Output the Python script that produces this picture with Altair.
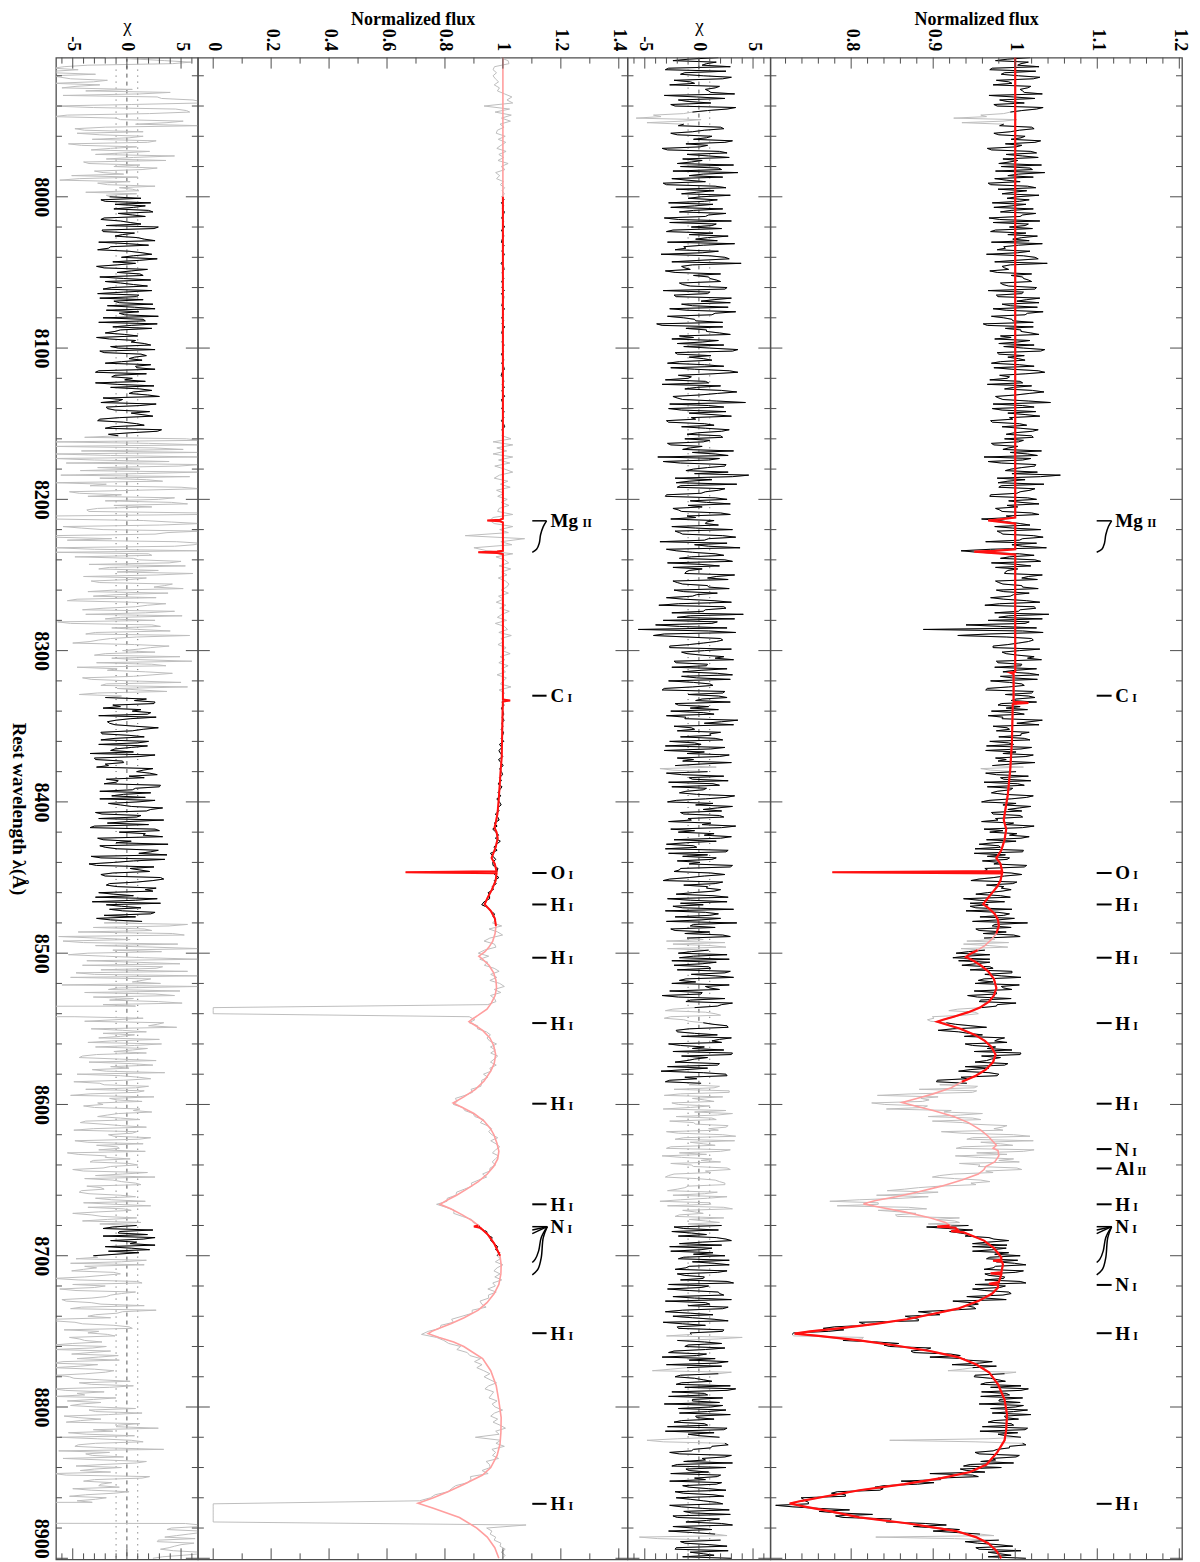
import altair as alt
import pandas as pd

SERIF = "Liberation Serif"
FRAME = "#4d4d4d"
GREY = "#bebebe"
PINK = "#ff9e9e"
RED = "#ff1010"
H = 1503
W_CHI1, W_FLUX2, W_CHI2, W_FLUX1 = 142, 430, 143, 412

# ---------------------------------------------------------------- data
GRID_START = 7908   # first spectrum pixel (Angstrom)
# *_A arrays: pixels at 7908, 7910, ... 8900 ; *_B arrays: pixels at 7909, 7911, ... 8899

# right pair: observed normalized flux
OBS1_A = [
    1.018, 0.976, 1.007, 1.029, 0.969, 0.987, 1.004, 1.022, 0.992, 0.973, 1.015, 1.009, 1.033, 0.998, 0.981, 1.011, 0.978, 1.026, 0.994, 0.958, 0.925, 0.985, 0.986, 1.020, 1.005,
    0.974, 1.012, 0.995, 1.024, 1.008, 0.966, 1.019, 0.989, 1.028, 1.003, 0.980, 0.983, 1.021, 1.036, 0.991, 0.975, 1.006, 0.970, 1.025, 1.014, 0.984, 1.002, 1.017, 0.972, 0.996,
    1.022, 0.982, 1.009, 0.968, 1.030, 1.016, 0.993, 0.976, 1.013, 1.027, 0.997, 0.971, 1.004, 0.988, 1.018, 0.965, 1.024, 1.001, 1.039, 0.984, 0.992, 0.978, 0.995, 1.010, 1.020,
    0.985, 1.026, 0.967, 1.008, 0.979, 1.014, 1.029, 0.994, 0.973, 1.034, 1.012, 0.986, 0.997, 0.961, 1.022, 1.007, 1.019, 0.982, 0.975, 1.003, 1.023, 1.010, 1.031, 0.980, 0.991,
    1.012, 0.971, 1.023, 0.996, 1.036, 0.981, 0.990, 1.006, 0.966, 0.998, 1.021, 1.017, 0.976, 0.985, 1.043, 1.009, 0.972, 1.025, 1.013, 0.993, 0.970, 1.005, 0.984, 1.028, 0.999,
    1.020, 0.987, 1.004, 0.974, 0.992, 1.032, 1.015, 0.962, 1.009, 0.983, 1.024, 0.995, 1.027, 1.055, 0.978, 0.991, 1.035, 0.980, 1.018, 1.002, 0.969, 1.026, 1.007, 0.990, 0.976,
    0.984, 1.029, 0.997, 0.981, 1.006, 0.975, 1.031, 0.982, 1.022, 1.009, 0.964, 0.996, 1.038, 0.934, 1.005, 0.993, 1.024, 0.971, 1.019, 1.003, 0.988, 1.033, 1.008, 0.976, 0.985,
    1.009, 0.977, 1.017, 0.994, 0.986, 1.030, 0.963, 1.025, 1.004, 1.041, 0.980, 0.967, 1.012, 0.982, 0.888, 1.034, 0.930, 1.020, 1.016, 0.991, 0.973, 1.005, 0.989, 1.023, 1.032,
    0.979, 1.007, 1.026, 0.985, 1.029, 0.996, 0.970, 1.008, 0.992, 0.964, 1.020, 1.016, 1.001, 1.026, 0.979, 0.989, 0.971, 1.011, 0.985, 1.033, 1.002, 0.973, 0.993, 1.017, 1.007,
    1.011, 0.969, 0.998, 1.020, 0.964, 0.985, 1.013, 0.989, 1.024, 0.972, 0.958, 1.001, 0.977, 0.982, 1.019, 1.003, 0.966, 0.994, 0.971, 1.022, 0.995, 0.959, 0.985, 1.005, 1.008,
    0.973, 1.009, 0.979, 0.998, 1.023, 0.962, 0.969, 0.993, 1.007, 1.001, 0.956, 0.982, 1.010, 0.950, 0.966, 0.990, 0.982, 1.014, 0.963, 0.961, 1.008, 0.974, 0.946, 0.997, 0.986,
    0.995, 0.966, 0.982, 0.937, 0.987, 0.967, 0.952, 0.940, 0.993, 0.957, 0.979, 1.015, 0.972, 0.952, 0.989, 0.998, 0.962, 0.941, 0.937, 0.991, 0.963, 0.928, 0.941, 0.969, 0.969,
    0.935, 0.973, 0.996, 0.963, 1.007, 0.955, 0.951, 0.983, 0.996, 0.977, 0.942, 0.995, 0.956, 0.978, 0.959, 0.919, 0.955, 0.899, 0.893, 0.916, 0.946, 0.924, 0.931, 0.960, 0.987,
    0.975, 0.939, 0.976, 0.996, 1.007, 0.959, 0.971, 0.951, 0.987, 0.968, 0.931, 0.980, 0.934, 0.905, 0.941, 0.954, 0.883, 0.948, 0.832, 0.885, 0.887, 0.841, 0.888, 0.922, 0.960,
    0.894, 0.958, 0.936, 0.990, 0.974, 0.910, 0.998, 0.948, 1.022, 0.982, 0.936, 1.023, 0.953, 0.927, 0.998, 1.005, 0.957, 1.002, 0.964, 0.925, 0.899, 0.958, 0.946, 0.908, 0.865,
    0.906, 0.831, 0.862, 0.774, 0.833, 0.870, 0.833, 0.879, 0.856, 0.902, 0.932, 0.943, 0.918, 0.920, 0.945, 0.968, 0.992, 0.948, 0.948, 0.973, 0.992, 1.006, 0.965, 0.977, 1.013,
    0.973, 1.010, 0.963, 0.987, 0.963, 1.013, 0.988, 0.948, 0.992, 0.985, 0.964, 0.924, 0.955, 0.949, 0.920, 0.897, 0.866, 0.882, 0.810, 0.821, 0.766, 0.772, 0.728, 0.815, 0.790,
    0.858, 0.847, 0.891, 0.876, 0.933, 0.937, 0.972, 0.923, 0.948, 0.918, 0.987, 0.950, 0.979, 0.964, 1.007, 1.016, 0.959, 0.993, 1.009, 0.980, 0.956, 1.000, 1.015, 0.972, 0.987,
    1.004, 0.967, 0.998, 1.015, 0.957, 0.979, 1.007, 0.847, 1.009, 0.993, 0.978, 0.951, 1.005, 0.971, 0.958, 0.945, 0.983, 0.941, 0.896, 0.955, 0.909, 0.901, 0.840, 0.839, 0.783,
    0.793, 0.739, 0.744, 0.748, 0.729, 0.798, 0.783, 0.781, 0.849, 0.843, 0.916, 0.905, 0.900, 0.957, 0.830, 0.980, 0.954, 0.997, 0.956, 0.967, 0.995, 1.013,
]
OBS1_B = [
    0.991, 1.016, 1.003, 0.972, 1.025, 0.983, 1.030, 0.977, 0.996, 1.019, 1.006, 1.011, 0.968, 1.024, 0.990, 0.974, 1.034, 1.008, 0.986, 0.965, 1.002, 0.935, 0.981, 1.023, 0.994,
    0.980, 1.007, 1.031, 0.988, 1.001, 0.971, 1.026, 1.009, 0.985, 0.993, 1.032, 1.018, 0.976, 1.004, 1.022, 0.989, 0.967, 1.015, 0.979, 0.998, 1.029, 0.990, 1.005, 1.013, 0.974,
    0.995, 1.025, 1.006, 0.981, 0.973, 1.012, 1.021, 0.970, 0.991, 1.008, 1.017, 1.033, 0.986, 0.978, 1.003, 1.010, 1.028, 0.975, 0.994, 0.987, 0.969, 1.020, 1.009, 1.016, 0.982,
    0.992, 1.024, 1.010, 0.977, 1.030, 1.002, 0.984, 1.027, 0.989, 1.015, 0.971, 0.996, 1.022, 0.966, 0.988, 1.007, 1.029, 0.995, 1.018, 0.980, 0.986, 1.036, 0.978, 1.011, 1.004,
    0.982, 1.005, 0.974, 1.028, 1.013, 0.993, 0.969, 1.009, 1.020, 0.987, 1.035, 1.001, 0.980, 1.016, 0.973, 1.023, 0.984, 0.991, 1.030, 0.997, 0.972, 1.014, 1.006, 1.021, 0.989,
    1.022, 1.010, 0.971, 1.003, 0.985, 0.994, 1.027, 1.019, 0.967, 1.025, 1.008, 0.988, 0.996, 1.031, 1.012, 0.979, 0.983, 1.024, 1.006, 0.970, 1.015, 0.992, 1.029, 1.003, 0.981,
    1.020, 0.989, 0.959, 0.992, 1.018, 0.997, 0.978, 0.985, 1.034, 1.005, 1.026, 1.009, 0.970, 0.954, 1.023, 0.982, 1.031, 1.002, 0.976, 0.991, 0.987, 1.016, 1.027, 0.980, 1.008,
    1.028, 0.986, 0.998, 0.970, 1.014, 0.981, 1.023, 1.006, 0.975, 0.992, 1.033, 1.017, 0.940, 1.026, 1.009, 0.968, 0.989, 1.022, 1.004, 0.973, 1.030, 0.984, 1.003, 1.015, 0.977,
    1.008, 0.975, 1.000, 1.017, 0.982, 1.027, 0.993, 1.011, 0.966, 1.022, 0.988, 1.024, 0.995, 0.983, 1.006, 1.015, 1.001, 0.967, 0.984, 1.018, 1.029, 0.990, 0.977, 1.007, 0.980,
    1.018, 0.992, 0.965, 1.007, 1.001, 1.022, 0.976, 0.979, 0.995, 1.010, 0.970, 0.964, 1.016, 0.986, 0.962, 1.011, 0.997, 0.978, 0.987, 1.014, 0.968, 1.001, 1.019, 0.991, 0.971,
    1.006, 0.976, 0.959, 0.989, 1.009, 0.985, 1.002, 1.017, 0.965, 0.974, 0.980, 0.951, 1.009, 0.988, 0.993, 0.960, 0.974, 1.011, 0.966, 0.995, 0.987, 0.956, 1.002, 0.965, 0.983,
    0.984, 0.952, 0.994, 0.956, 0.945, 0.945, 0.996, 0.979, 0.986, 0.999, 0.948, 0.975, 0.995, 0.956, 0.961, 1.006, 0.975, 0.992, 0.969, 0.934, 0.943, 0.969, 0.924, 0.931, 0.952,
    0.969, 0.945, 0.996, 0.983, 0.962, 0.973, 1.005, 0.986, 0.950, 0.977, 0.954, 0.958, 1.001, 0.977, 0.930, 0.951, 0.938, 0.901, 0.897, 0.927, 0.965, 0.906, 0.943, 0.938, 0.979,
    0.990, 0.948, 0.966, 0.950, 1.006, 0.982, 0.965, 0.991, 0.939, 0.945, 0.968, 0.978, 0.941, 0.904, 0.908, 0.950, 0.953, 0.874, 0.906, 0.895, 0.825, 0.893, 0.843, 0.913, 0.933,
    0.948, 0.899, 0.947, 0.984, 0.985, 0.935, 1.018, 0.941, 0.958, 0.997, 0.928, 1.010, 0.990, 0.955, 0.980, 0.932, 0.955, 1.008, 0.973, 0.908, 0.926, 0.969, 0.952, 0.882, 0.844,
    0.880, 0.894, 0.810, 0.833, 0.783, 0.892, 0.859, 0.854, 0.932, 0.926, 0.894, 0.892, 0.948, 0.933, 0.939, 0.974, 0.967, 0.990, 0.989, 0.948, 0.975, 0.969, 1.003, 0.999, 0.976,
    0.962, 1.000, 0.968, 0.986, 1.006, 0.951, 0.981, 0.963, 0.995, 0.941, 0.989, 0.946, 0.940, 0.952, 0.882, 0.908, 0.874, 0.882, 0.815, 0.780, 0.791, 0.730, 0.730, 0.813, 0.830,
    0.840, 0.897, 0.873, 0.921, 0.896, 0.941, 0.956, 0.977, 0.936, 1.001, 0.951, 0.970, 0.988, 0.958, 0.970, 1.007, 0.989, 0.958, 0.981, 1.006, 1.010, 0.970, 0.998, 1.019, 0.988,
    0.974, 0.995, 0.960, 1.012, 1.003, 0.989, 0.967, 0.951, 1.013, 0.993, 0.973, 0.956, 1.001, 0.976, 0.998, 0.937, 0.933, 0.963, 0.948, 0.906, 0.861, 0.881, 0.829, 0.835, 0.776,
    0.793, 0.742, 0.748, 0.708, 0.760, 0.761, 0.826, 0.790, 0.847, 0.891, 0.876, 0.932, 0.929, 0.974, 0.926, 0.939, 0.979, 0.952, 1.007, 0.981, 0.967,
]

# right pair: chi residuals
CHI2_A = [
    1.8, -2.4, 0.7, 2.9, -3.1, -1.3, 0.4, 2.2, -0.8, -2.7, 1.5, 0.9, 3.3, -0.2, -1.9, 1.1, -2.2, 2.6, -0.6, -4.2, -5.8, -1.5, -1.4, 2.0, 0.5,
    -2.6, 1.2, -0.5, 2.4, 0.8, -3.4, 1.9, -1.1, 2.8, 0.3, -2.0, -1.7, 2.1, 3.6, -0.9, -2.5, 0.6, -3.0, 2.5, 1.4, -1.6, 0.2, 1.7, -2.8, -0.4,
    2.2, -1.8, 0.9, -3.2, 3.0, 1.6, -0.7, -2.4, 1.3, 2.7, -0.3, -2.9, 0.4, -1.2, 1.8, -3.5, 2.4, 0.1, 3.9, -1.6, -0.8, -2.2, -0.5, 1.0, 2.0,
    -1.5, 2.6, -3.3, 0.8, -2.1, 1.4, 2.9, -0.6, -2.7, 3.4, 1.2, -1.4, -0.3, -3.9, 2.2, 0.7, 1.9, -1.8, -2.5, 0.3, 2.3, 1.0, 3.1, -2.0, -0.9,
    1.2, -2.9, 2.3, -0.4, 3.6, -1.9, -1.0, 0.6, -3.4, -0.2, 2.1, 1.7, -2.4, -1.5, 4.3, 0.9, -2.8, 2.5, 1.3, -0.7, -3.0, 0.5, -1.6, 2.8, -0.1,
    2.0, -1.3, 0.4, -2.6, -0.8, 3.2, 1.5, -3.8, 0.9, -1.7, 2.4, -0.5, 2.7, 4.6, -2.2, -0.9, 3.5, -2.0, 1.8, 0.2, -3.1, 2.6, 0.7, -1.0, -2.4,
    -1.6, 2.9, -0.3, 1.4, 0.6, -2.5, 3.1, -1.8, 2.2, 0.9, -3.6, -0.4, 3.8, -2.1, 1.5, -0.7, 2.4, -2.9, 1.9, 0.3, -1.2, 3.3, 0.8, -2.4, -1.5,
    0.9, -2.3, 1.7, -0.6, -1.4, 3.0, -3.7, 2.5, 0.4, 4.1, -2.0, -3.3, 1.2, -1.8, -5.6, 3.4, -4.2, 2.0, 1.6, -0.9, -2.7, 0.5, -1.1, 2.3, 3.2,
    -2.1, 0.7, 2.6, -1.5, 3.1, -0.2, -2.8, 1.0, -0.6, -3.4, 2.2, 1.8, 0.3, 2.9, -1.9, -0.8, -2.6, 1.4, -1.2, 3.6, 0.5, -2.3, -0.4, 2.0, 1.1,
    1.5, -2.7, 0.2, 2.4, -3.2, -1.1, 1.9, -0.5, 3.0, -2.2, -3.6, 0.8, -1.6, -0.9, 2.7, 1.3, -2.5, 0.4, -1.8, 3.3, 0.6, -2.9, -0.3, 1.7, 2.1,
    -1.4, 2.3, -0.7, 1.1, 3.4, -2.6, -1.9, 0.5, 2.0, 1.6, -3.0, -0.2, 2.7, -2.8, -1.5, 1.2, 0.1, 3.1, -1.7, -2.3, 2.4, -0.9, -3.3, 1.5, 0.8,
    2.0, -0.6, 1.3, -2.9, 2.6, 0.4, -1.5, -3.1, 1.8, -2.2, 0.2, 3.5, -0.8, -2.6, 1.0, 2.2, -1.1, -3.0, -2.4, 2.5, 0.9, -1.9, -0.5, 2.8, 1.6,
    -2.3, 1.1, 2.9, -0.7, 3.2, -1.8, -2.5, 0.6, 1.9, 0.3, -3.4, 2.4, -1.2, 2.1, -0.4, -3.1, 1.5, -2.6, -1.4, 0.4, 2.6, -0.9, -2.0, 1.7, 3.0,
    1.2, -2.8, 0.5, 2.3, 3.1, -1.6, -0.4, -2.2, 1.7, 0.8, -3.5, 2.5, -1.3, -2.7, 0.2, 1.9, -2.3, 2.8, -3.2, -0.6, 1.4, -1.9, -0.8, 2.5, 3.1,
    -2.1, 1.6, -0.5, 2.7, 0.9, -3.0, 2.2, -1.4, 3.3, 0.4, -2.6, 2.9, -1.8, -3.4, 1.2, 2.0, -0.7, 2.6, 0.6, -2.3, -3.1, 1.5, 2.4, -1.0, -2.0,
    1.7, -2.4, 0.8, -3.6, 1.1, 2.3, -1.5, 0.4, -2.2, -0.9, 1.9, 2.1, -1.4, -2.5, 0.7, 1.6, 3.0, -1.8, -2.7, 0.2, 1.3, 2.4, -1.9, -0.6, 2.8,
    -1.2, 2.6, -2.0, 0.5, -1.7, 3.2, 0.9, -2.9, 1.8, 2.3, -0.4, -3.1, 1.0, 2.7, -1.5, -0.8, -2.4, 1.4, -3.3, 0.6, -1.9, 2.2, -0.7, 4.0, -2.0,
    2.1, -1.3, 0.6, -2.8, -0.2, 1.5, 2.7, -3.0, -1.1, -4.3, 1.8, -2.2, 0.4, -1.6, 2.9, 3.4, -2.5, 0.8, 2.2, -0.6, -3.2, 1.1, 2.5, -1.8, -0.3,
    1.4, -2.3, 0.8, 2.6, -3.1, -1.0, 1.9, -4.8, 2.4, 1.2, -0.5, -2.7, 3.0, 0.3, -1.4, -2.0, 2.5, -0.9, -2.6, 1.7, 0.6, 2.1, -1.5, 0.9, -2.2,
    1.3, -2.1, 0.4, 2.2, -1.6, 2.8, -0.7, -2.4, 1.9, -1.2, 3.1, -0.5, -2.8, 1.5, -5.5, 2.0, -1.3, 2.6, -2.2, -0.8, 1.4, 3.0,
]
CHI2_B = [
    -0.9, 1.6, 0.3, -2.8, 2.5, -1.7, 3.0, -2.3, -0.4, 1.9, 0.6, 1.1, -3.2, 2.4, -1.0, -2.6, 3.4, 0.8, -1.4, -3.5, 0.2, -4.8, -1.9, 2.3, -0.6,
    -2.0, 0.7, 3.1, -1.2, 0.1, -2.9, 2.6, 0.9, -1.5, -0.7, 3.2, 1.8, -2.4, 0.4, 2.2, -1.1, -3.3, 1.5, -2.1, -0.2, 2.9, -1.0, 0.5, 1.3, -2.6,
    -0.5, 2.5, 0.6, -1.9, -2.7, 1.2, 2.1, -3.0, -0.9, 0.8, 1.7, 3.3, -1.4, -2.2, 0.3, 1.0, 2.8, -2.5, -0.6, -1.3, -3.1, 2.0, 0.9, 1.6, -1.8,
    -0.8, 2.4, 1.0, -2.3, 3.0, 0.2, -1.6, 2.7, -1.1, 1.5, -2.9, -0.4, 2.2, -3.4, -1.2, 0.7, 2.9, -0.5, 1.8, -2.0, -1.4, 3.6, -2.2, 1.1, 0.4,
    -1.8, 0.5, -2.6, 2.8, 1.3, -0.7, -3.1, 0.9, 2.0, -1.3, 3.5, 0.1, -2.0, 1.6, -2.7, 2.3, -1.6, -0.9, 3.0, -0.3, -2.8, 1.4, 0.6, 2.1, -1.1,
    2.2, 1.0, -2.9, 0.3, -1.5, -0.6, 2.7, 1.9, -3.3, 2.5, 0.8, -1.2, -0.4, 3.1, 1.2, -2.1, -1.7, 2.4, 0.6, -3.0, 1.5, -0.8, 2.9, 0.3, -1.9,
    2.0, -1.1, -2.6, 0.7, 1.8, -0.3, -2.2, -1.5, 3.4, 0.5, 2.6, 0.9, -3.0, -0.6, 2.3, -1.8, 3.1, 0.2, -2.4, -0.9, -1.3, 1.6, 2.7, -2.0, 0.8,
    2.8, -1.4, -0.2, -3.0, 1.4, -1.9, 2.3, 0.6, -2.5, -0.8, 3.3, 1.7, -4.0, 2.6, 0.9, -3.2, -1.1, 2.2, 0.4, -2.7, 3.0, -1.6, 0.3, 1.5, -2.3,
    0.8, -2.5, 0.2, 1.7, -1.6, 2.9, -0.5, 1.3, -3.2, 2.4, -1.0, 2.6, -0.3, -2.2, 0.9, 1.8, 0.4, -3.0, -1.3, 2.1, 3.2, -0.7, -2.0, 1.0, -1.7,
    2.2, -0.4, -3.1, 1.1, 0.5, 2.8, -2.0, -1.5, 0.1, 1.6, -2.4, -3.0, 2.3, -0.6, -2.8, 1.9, 0.7, -1.2, -0.2, 2.5, -2.1, 1.3, 3.1, 0.4, -1.7,
    1.9, -1.0, -2.8, 0.3, 2.1, -0.4, 1.4, 3.0, -2.3, -1.2, -0.5, -3.1, 2.5, 0.8, 1.6, -2.0, -0.9, 2.9, -1.8, 1.1, 0.5, -2.7, 2.2, -1.4, 0.7,
    1.4, -2.1, 2.7, -0.8, -1.7, -2.4, 3.2, 0.6, 1.0, 2.0, -3.0, -0.5, 1.5, -2.2, -1.3, 2.9, 0.4, 2.4, 1.1, -2.9, -0.7, 2.6, -1.8, -2.5, 0.3,
    0.9, -2.0, 2.4, 1.5, -1.2, -0.3, 2.8, 1.0, -2.7, 0.2, -1.9, -0.8, 3.1, 1.7, -2.4, 0.6, 2.0, -3.2, -0.9, 1.3, 2.7, -2.1, -0.4, -1.6, 1.9,
    2.1, -1.7, -0.6, -2.4, 3.0, 0.8, -1.1, 1.9, -2.9, -1.3, 0.4, 2.6, -0.2, -3.1, -0.9, 1.4, 2.8, -1.7, 2.2, 0.5, -2.5, 1.0, -3.3, -0.4, 1.7,
    1.2, -2.7, -0.3, 2.5, 1.8, -1.9, 3.4, -2.2, -0.8, 1.5, -3.0, 2.0, 0.7, -1.6, 0.2, -2.6, -0.5, 2.9, 1.1, -2.8, -0.2, 1.9, 2.4, -1.3, -2.9,
    0.5, 2.6, -1.7, 1.0, -2.9, 3.1, -0.4, -1.8, 2.3, 0.6, -1.0, -2.3, 1.8, -0.7, -1.9, 2.5, 0.3, 2.1, 1.2, -2.6, -0.5, -1.4, 2.8, 1.4, -0.9,
    -2.2, 1.7, -1.3, 0.4, 2.6, -2.8, 0.2, -0.9, 1.9, -2.4, 3.0, 0.6, -1.0, 2.2, -3.1, 1.3, -0.6, 2.7, -1.5, -2.0, 2.3, -0.8, -3.0, 1.8, 0.5,
    -1.0, 2.4, -2.3, 0.7, -3.4, -0.9, 1.6, 2.1, -2.6, 3.0, -1.7, -0.4, 1.2, -2.1, -1.3, 2.6, 0.5, -2.8, -0.6, 1.9, 2.2, -1.9, 0.8, 2.9, -0.2,
    -1.6, 0.5, -2.9, 2.3, 1.4, 0.1, -2.0, -3.3, 2.7, 1.1, -0.7, -1.8, 2.4, 0.6, 3.1, -2.5, -1.2, 0.9, 2.0, -0.4, -2.7, 1.6, -0.9, 2.5, -1.4,
    2.3, -0.8, 1.6, -2.7, 0.3, -1.4, 2.9, -2.0, 0.7, 2.1, -2.4, 1.2, -0.6, 2.6, -3.8, -1.7, 1.0, -2.1, 2.7, 0.4, -1.5,
]

# left pair: observed normalized flux (2 A pixels; zero across the detector gaps)
OBS2 = [
    0.990, 1.018, 1.021, 0.971, 0.966, 0.978, 0.966, 0.974, 0.985, 0.970, 0.988, 0.981, 1.006, 1.031, 1.014, 1.034, 0.935, 1.023, 0.973, 1.029, 0.995, 1.026, 0.990, 1.004, 0.981,
    0.977, 1.008, 0.984, 1.010, 0.993, 0.979, 1.011, 0.986, 1.003, 0.983, 1.018, 0.994, 1.007, 0.975, 0.989, 0.978, 1.002, 0.991, 1.006, 0.997, 1.005, 0.997, 1.004, 0.995, 1.003,
    0.998, 1.005, 1.001, 0.996, 1.003, 0.999, 1.006, 0.995, 1.001, 1.003, 0.998, 0.995, 1.004, 1.000, 0.997, 1.005, 0.999, 1.002, 0.994, 1.002, 1.004, 0.998, 0.999, 1.003, 0.996,
    1.001, 0.997, 1.005, 0.995, 1.003, 1.002, 0.999, 0.996, 1.005, 1.000, 1.002, 0.996, 1.003, 0.997, 1.006, 0.999, 0.996, 1.002, 1.001, 0.997, 1.004, 0.998, 1.003, 0.995, 1.001,
    1.003, 0.996, 1.002, 1.005, 0.998, 0.994, 1.001, 1.003, 0.998, 1.005, 0.997, 1.000, 1.006, 0.995, 0.999, 1.002, 0.996, 1.004, 0.999, 1.003, 0.995, 1.002, 1.006, 0.997, 1.001,
    0.998, 1.028, 0.966, 1.034, 0.979, 1.013, 0.966, 1.034, 0.985, 1.024, 0.972, 1.006, 1.034, 0.988, 0.970, 1.017, 0.991, 1.025, 0.978, 1.004, 0.982, 1.015, 0.994, 1.021, 0.987,
    0.982, 1.034, 0.966, 0.955, 0.970, 1.034, 0.989, 1.019, 0.870, 1.075, 0.993, 1.031, 0.900, 0.945, 1.034, 0.976, 1.006, 1.020, 0.987, 1.027, 0.996, 1.014, 0.984, 1.009, 1.021,
    1.013, 0.994, 1.019, 0.985, 1.002, 0.977, 1.010, 0.989, 1.022, 0.997, 0.981, 1.013, 0.974, 1.005, 1.016, 0.986, 1.029, 0.993, 1.004, 0.983, 1.011, 0.998, 1.025, 0.990, 1.007,
    0.986, 1.018, 0.996, 1.009, 0.980, 1.012, 1.002, 0.991, 1.028, 0.987, 1.006, 0.998, 1.004, 0.997, 1.004, 0.995, 1.000, 1.003, 0.997, 1.004, 0.996, 1.000, 0.994, 1.002, 0.999,
    0.994, 1.003, 0.988, 0.997, 0.986, 0.992, 1.000, 0.985, 0.993, 1.001, 0.989, 0.995, 0.999, 0.988, 0.995, 0.983, 0.997, 0.989, 0.983, 0.993, 0.979, 0.988, 0.994, 0.981, 0.987,
    0.974, 0.982, 0.987, 0.970, 0.980, 0.965, 0.976, 0.985, 0.974, 0.991, 0.978, 0.969, 0.980, 0.957, 0.966, 0.975, 0.965, 0.966, 0.983, 0.979, 0.971, 0.986, 0.970, 0.977, 0.963,
    0.967, 0.949, 0.954, 0.954, 0.935, 0.927, 0.950, 0.957, 0.971, 0.966, 0.976, 0.964, 0.996, 0.952, 0.982, 0.999, 0.955, 0.935, 0.971, 0.976, 0.936, 0.915, 0.951, 0.920, 0.948,
    0.936, 0.970, 0.987, 0.958, 0.979, 0.955, 0.989, 1.005, 0.970, 0.993, 0.957, 0.971, 0.976, 0.948, 0.0, 0.0, 0.0, 0.884, 0.903, 0.884, 0.913, 0.912, 0.943, 0.957, 0.945,
    0.954, 0.978, 0.957, 0.974, 0.958, 0.982, 0.970, 0.957, 0.977, 0.955, 0.959, 0.933, 0.948, 0.927, 0.926, 0.924, 0.890, 0.895, 0.869, 0.836, 0.842, 0.829, 0.862, 0.868, 0.897,
    0.903, 0.933, 0.922, 0.946, 0.961, 0.951, 0.962, 0.982, 0.958, 0.976, 0.989, 0.975, 0.964, 0.985, 0.974, 0.963, 0.975, 0.956, 0.954, 0.930, 0.944, 0.916, 0.891, 0.894, 0.867,
    0.840, 0.838, 0.808, 0.807, 0.771, 0.804, 0.832, 0.830, 0.860, 0.892, 0.897, 0.918, 0.921, 0.944, 0.946, 0.963, 0.958, 0.971, 0.982, 0.975, 0.989, 0.980, 0.991, 0.974, 1.000,
    0.980, 0.969, 0.990, 0.972, 0.996, 0.965, 0.974, 0.948, 0.977, 0.950, 0.951, 0.921, 0.927, 0.942, 0.894, 0.894, 0.859, 0.823, 0.829, 0.786, 0.783, 0.742, 0.719, 0.771, 0.796,
    0.813, 0.854, 0.841, 0.877, 0.886, 0.923, 0.902, 0.928, 0.910, 0.934, 0.955, 0.935, 0.956, 0.978, 0.951, 0.938, 0.968, 0.960, 0.952, 0.980, 0.963, 0.973, 0.999, 0.971, 0.958,
    0.982, 0.966, 0.990, 1.009, 0.975, 0.987, 0.905, 0.993, 0.976, 1.005, 0.962, 0.975, 0.964, 0.985, 0.942, 0.954, 0.956, 0.928, 0.949, 0.888, 0.890, 0.878, 0.837, 0.822, 0.811,
    0.766, 0.750, 0.712, 0.0, 0.0, 0.0, 0.0, 0.0, 0.0, 0.0, 1.080, 0.944, 0.962, 0.956, 0.975, 0.970, 0.993, 0.990, 1.008, 0.994, 1.008, 0.998,
]

# left pair: chi residuals (-99 = far off scale inside the detector gaps)
CHI1_A = [
    -2.0, 3.5, 4.2, -5.8, -4.5, -6.8, -6.9, -5.2, -3.1, -2.5, -6.0, -3.8, 1.2, 2.8, 6.1, 6.8, -6.9, 4.5, 5.8, -5.5, -1.0, 5.2, 0.8, -2.0, -3.9,
    -4.6, 1.5, -3.2, 1.9, -4.2, -1.5, 2.1, -2.9, 0.6, 3.6, -3.5, -1.2, 1.4, -2.2, -5.1, -4.4, 0.3, -1.8, -0.7, 1.1, 0.9, -1.6, -2.4, 2.2, 1.7,
    -1.2, 2.4, 0.5, -2.1, -0.6, 1.3, 2.9, -2.3, 0.7, -1.1, 1.6, -2.6, 2.0, -1.7, 0.2, 2.3, -0.5, 1.2, 0.8, -2.8, 1.9, -0.9, 1.5, -0.3, -2.0,
    0.6, -1.4, 2.3, -2.7, 0.9, 1.5, -0.7, -1.8, 2.6, 1.1, -0.2, -2.2, 1.7, 2.8, -1.3, -0.6, -2.0, 1.0, -1.6, 0.4, 2.2, -0.8, -2.5, 1.3, 0.7,
    1.4, -2.0, 0.8, 2.6, -2.9, -1.1, 0.5, 1.7, -0.9, -1.5, 2.3, 0.2, 3.0, -0.4, -2.4, 1.2, -1.8, 2.1, 1.4, -0.7, -2.7, 0.9, -1.3, 3.2, 0.3,
    -0.8, 5.5, -6.8, 6.8, 2.5, -4.2, -6.8, 6.8, -3.0, -5.6, 4.8, 1.2, 6.8, -6.1, -2.5, 3.3, -1.9, 5.0, 0.8, -4.4, -3.6, 2.9, 4.1, -1.2, -2.7,
    -3.5, 6.8, -6.8, 1.5, 6.8, -5.9, -2.2, 3.7, -6.8, -1.4, 4.6, 6.2, -6.8, 6.8, 2.0, -4.8, 1.1, 3.9, 5.4, -2.6, -0.9, 2.7, 1.8, -3.3, 4.2,
    2.5, -1.2, 3.8, -3.1, -4.6, 0.4, 1.9, -2.2, 4.4, -3.8, -0.6, 2.6, -5.2, 3.1, 1.0, -2.9, 5.8, -1.5, -3.4, 0.7, 2.2, -0.4, -2.0, 4.9, 1.3,
    -2.8, 3.6, -0.9, 1.7, 2.4, -4.1, 0.3, -1.9, 5.6, 1.1, -2.7, -0.5, 1.8, 2.6, -1.3, -2.2, 0.5, 1.9, 2.7, -1.0, -1.6, 0.8, 1.5, -2.4, 0.2,
    -1.1, 2.0, -2.6, 0.4, -1.5, -3.4, 1.2, -2.9, -0.3, -1.7, 2.4, 0.9, 2.8, 1.6, -0.8, -2.1, 3.0, 0.5, 2.2, -1.4, -2.5, 1.0, -0.6, 3.3, 1.8,
    -2.3, 0.9, 3.4, -1.8, -3.0, 2.6, -0.7, 1.5, -2.7, 0.4, 3.8, -2.0, 2.9, 1.1, -3.3, 3.5, -1.2, -2.8, 0.3, 2.1, -2.4, 3.1, 2.4, -1.6, -0.9,
    1.7, -2.6, 0.6, 2.8, -3.2, -1.9, 1.3, -0.4, 2.2, 0.8, -1.5, -2.1, 3.9, 1.6, -4.5, 5.3, -2.8, -5.9, 4.7, 2.4, -1.3, -3.6, -2.0, 6.8, 0.9,
    -4.1, 2.7, 5.6, -3.0, -5.2, 1.4, 3.1, 6.8, -1.7, -3.9, 4.4, 0.6, 2.9, -2.2, -99, -99, -99, -4.8, -1.1, 3.4, 2.0, -3.3, 1.8, 0.7, -2.6,
    -1.4, 3.2, -2.9, 0.5, 1.8, -4.1, -0.7, -3.5, 2.4, 0.2, -1.9, -4.6, 1.1, -0.3, -2.5, 2.0, -3.8, 0.9, -5.2, -1.6, 1.4, -2.2, -3.0, 0.6, -0.8,
    -2.7, 1.2, -4.3, -0.5, -3.1, 0.9, -1.7, 2.2, -4.8, 1.5, -0.9, -2.6, -5.5, -1.9, 0.3, -3.4, 1.0, -2.2, -4.0, -0.4, 2.6, -1.3, 0.8, -3.7, -2.1,
    -4.4, -0.6, -2.9, 1.7, -1.1, -3.6, 0.4, -5.0, -2.3, -1.8, 1.3, 0.9, -2.2, -0.7, 1.9, 2.6, -1.5, 0.3, -2.0, 2.1, 1.1, -3.1, -4.7, -0.5, 1.6,
    -2.8, -5.1, -0.6, -3.9, -4.5, 1.4, -2.0, -6.2, 0.8, -1.5, -3.3, -5.6, -2.4, -4.2, 2.7, -0.9, -3.6, -6.8, -4.8, -1.2, 0.5, -2.6, -1.8, -5.3, -3.9,
    -5.0, -1.9, -6.8, -3.4, -0.8, -4.6, -5.9, -2.7, -6.8, -1.2, -3.8, -5.3, -2.5, -4.4, 0.6, -6.8, -2.1, -3.9, -1.0, -5.5, -4.2, -2.8, -3.5, 1.4, -5.8,
    -2.4, -5.6, -0.8, 2.9, -1.3, -3.7, -6.2, 0.4, -2.9, -4.8, 3.4, -1.6, -3.2, -5.9, 1.8, -2.2, -0.5, -4.3, -6.8, 2.1, -3.0, -1.4, -2.6, -5.0, 0.2,
    -3.8, -1.9, -4.6, -99, -99, -99, -99, -99, -99, -99, 6.8, 4.1, 6.8, 5.7, 3.5, 2.9, 6.2, 4.4, 3.1, 6.8, 5.2, 2.4,
]
CHI1_B = [
    1.0, 5.9, -3.6, -6.8, -6.8, -2.9, -6.1, -1.8, -6.8, -4.7, 0.5, 4.0, -5.9, 3.2, 6.8, 0.4, -3.1, 5.5, 2.1, -6.8, -0.6, 3.7, 6.8, -4.8, 1.5,
    -2.5, 0.2, 2.7, -5.4, 0.9, -3.3, -0.4, 4.4, -1.9, -4.0, 1.2, 2.8, -3.0, -0.3, 1.0, -6.2, -2.7, 2.6, 0.5, -3.8, -1.9, 1.3, -2.0, -1.1, 0.6,
    2.0, -0.8, 1.7, -2.4, 0.3, -1.9, 2.5, -2.2, -0.4, 1.0, 2.6, 0.1, -1.5, -2.7, 1.4, 0.6, 2.8, -1.3, -0.9, -2.1, 0.4, 1.2, -2.5, 2.2, -0.6,
    1.9, -2.2, -0.3, 1.1, -2.5, -1.2, 2.4, 0.7, -1.9, -0.7, 2.9, 1.5, -2.6, 0.4, 2.3, -1.1, -0.2, -2.8, 0.8, 1.6, -1.5, 2.6, -2.1, 1.8, 0.2,
    -0.5, 2.2, 0.9, -2.6, 1.8, -1.4, -0.2, -2.9, 2.5, 1.2, 0.6, 1.9, -2.2, -0.8, 2.7, -1.9, -1.1, 0.4, 2.4, -2.5, -0.3, 1.6, -2.0, 2.8, -1.7,
    -3.9, 6.8, 2.0, -6.8, 5.2, 6.8, -1.5, -6.8, 3.9, 6.8, -2.7, -4.3, 0.9, 5.8, 1.8, -6.8, -3.4, 6.8, -5.3, -0.5, 4.4, -2.0, 5.6, 2.3, -3.7,
    6.8, -6.8, -6.8, 4.1, 3.0, -4.2, 6.8, 2.6, -6.8, -5.5, 6.8, 4.4, -3.0, -6.8, 2.3, 0.6, 5.0, -3.5, -1.6, 2.9, 6.1, -4.0, 0.3, -2.5, 3.5,
    5.2, -3.6, -1.0, 2.7, -5.5, 3.6, 0.8, -4.1, 1.7, 5.1, -2.0, -6.4, 2.3, -1.4, 4.0, -3.8, 0.9, -2.6, -5.0, 3.9, 1.1, 2.6, -3.0, -1.4, 6.0,
    2.3, -4.6, -1.8, 4.2, 0.6, -3.3, 5.0, -2.4, -0.9, 3.7, -4.4, -2.0, 0.7, 2.5, -0.6, 1.3, 2.2, -2.6, 0.3, -1.8, -1.1, 2.9, 0.5, -2.3, 1.6,
    -2.4, 1.0, 1.9, -1.1, 0.6, 2.6, -3.0, -0.4, -2.0, -2.8, 1.5, 2.1, 0.2, -1.9, -1.0, 3.1, 0.8, -2.5, -0.3, 1.7, 2.6, -1.7, 0.4, 2.2, -2.9,
    1.3, -2.6, 0.1, 2.0, -3.4, 3.0, 1.7, 3.3, -2.2, -1.0, -2.5, -0.9, 2.2, 3.7, -2.4, 0.6, -3.5, 2.5, 1.2, -1.3, -2.0, 3.4, 0.9, -1.9, 2.7,
    2.4, -1.2, -2.9, 0.8, 3.1, -0.5, -1.6, 2.6, -2.1, -2.8, 1.4, 5.6, -3.1, 2.3, 4.2, -6.3, 0.3, -4.0, -2.9, 6.8, 3.2, -5.4, 1.6, -3.7, 4.9,
    3.3, -2.4, -4.7, 6.8, 2.2, 0.5, -6.0, -0.8, 4.9, 2.6, -3.1, -1.6, 5.1, 0.8, -99, -99, -99, 1.5, -3.9, 2.8, 4.6, -0.4, -2.2, -0.6, 3.0,
    -3.6, 0.7, 1.9, -1.2, -2.8, -4.4, 2.7, 0.4, -1.5, -3.2, 3.5, -0.6, 2.2, -4.9, -2.1, 0.8, 1.6, -3.4, 2.5, -0.9, -2.7, -4.0, 1.2, 2.3, -1.8,
    -0.6, -3.8, -2.3, 1.8, -4.9, 0.5, -1.2, 1.1, -3.6, -2.8, -0.7, 1.7, -4.5, -2.0, -3.1, 0.2, -1.5, -5.0, 1.9, -2.9, -3.9, -0.5, 1.3, -2.4, -4.2,
    -3.5, 0.8, -1.4, -4.0, 2.2, -0.3, -2.6, -3.3, 0.9, -4.1, -2.5, -1.3, 2.4, -0.8, -2.2, 1.5, 0.9, 2.6, 0.4, -1.7, -1.0, -2.7, 1.8, -5.2, -3.9,
    -4.0, -1.2, -2.2, -6.8, 0.9, -5.0, -3.0, -4.7, -0.5, -1.9, -6.0, -3.3, 1.6, -5.2, -0.4, -2.9, -1.5, -6.8, -4.1, 0.2, -5.8, -3.6, -1.1, -4.4, -2.3,
    -6.8, -3.2, -1.5, -5.1, -2.6, -0.7, -6.8, -4.3, -3.0, -2.0, -6.5, -4.9, 0.3, -3.3, -1.6, -5.7, -4.6, -6.8, -3.1, -2.4, -5.2, 0.8, -2.9, -1.7, -4.5,
    -4.3, 1.2, -1.0, -3.1, -5.4, 0.7, -2.7, 1.5, -4.5, -1.9, -6.3, -3.8, -0.3, -2.2, 0.9, -4.7, -3.0, -1.5, -5.6, 1.4, -4.0, -2.4, -0.7, -3.3, -1.2,
    -5.3, -2.9, -3.2, -99, -99, -99, -99, -99, -99, 5.4, 6.8, 3.7, 6.8, 4.6, 6.3, 2.8, 5.0, 3.9, 4.3, 6.8, 3.3,
]

# best-fit models (wavelength, normalized flux)
MODEL1 = [
    (7908, 1.000), (8212, 1.000), (8213, 0.985), (8214, 0.967), (8215, 0.985), (8216, 1.000),
    (8233, 1.000), (8234, 0.975), (8234.6, 0.950), (8235.5, 0.975), (8236.5, 1.000),
    (8314, 1.000), (8314.6, 0.994), (8315.5, 0.998), (8333.8, 0.998), (8334.5, 1.016), (8335.3, 0.997),
    (8360, 0.996), (8378, 0.994), (8395, 0.991), (8405, 0.988), (8412, 0.986), (8418, 0.989), (8425, 0.987),
    (8432, 0.983), (8437, 0.977), (8441, 0.982), (8445.8, 0.984), (8446.5, 0.777), (8447.2, 0.984),
    (8452, 0.982), (8456, 0.978), (8460, 0.972), (8464, 0.966), (8467.5, 0.961), (8470, 0.967), (8474, 0.975),
    (8478, 0.979), (8482, 0.980), (8487, 0.977), (8491, 0.971), (8495, 0.963), (8498, 0.954), (8500.5, 0.945),
    (8502.5, 0.940), (8505, 0.949), (8508, 0.958), (8512, 0.967), (8517, 0.974), (8523, 0.977),
    (8528, 0.974), (8532, 0.968), (8536, 0.957), (8539, 0.943), (8542, 0.925), (8544, 0.912), (8545.3, 0.905),
    (8547, 0.915), (8550, 0.933), (8554, 0.951), (8558, 0.963), (8562, 0.971), (8567, 0.976),
    (8572, 0.973), (8577, 0.964), (8581, 0.952), (8585, 0.935), (8589, 0.922), (8593, 0.900), (8596, 0.880),
    (8598.7, 0.862), (8601, 0.878), (8604, 0.900), (8608, 0.925), (8612, 0.943), (8617, 0.958), (8621, 0.967),
    (8624, 0.972), (8627, 0.977), (8629, 0.973), (8630.5, 0.979), (8634, 0.980),
    (8638, 0.975), (8641, 0.964), (8643, 0.962), (8646, 0.955), (8650, 0.935), (8654, 0.910), (8658, 0.880),
    (8661, 0.855), (8663.5, 0.830), (8665.7, 0.815), (8668, 0.835), (8671, 0.865), (8675, 0.897), (8678, 0.915),
    (8680, 0.920), (8680.7, 0.905), (8681.5, 0.927), (8683, 0.930), (8683.7, 0.922), (8684.5, 0.937), (8690, 0.962),
    (8695, 0.974), (8701, 0.983), (8702.5, 0.983), (8703.3, 0.973), (8704, 0.984), (8706, 0.985), (8711, 0.983),
    (8711.7, 0.970), (8712.4, 0.983), (8717.5, 0.980), (8718.5, 0.968), (8719.3, 0.979), (8721, 0.979),
    (8725, 0.972), (8730, 0.955), (8735, 0.930), (8739, 0.895), (8742, 0.868), (8745, 0.830), (8748, 0.785),
    (8750, 0.750), (8751.5, 0.731), (8753, 0.760), (8756, 0.810), (8759, 0.850), (8763, 0.896), (8767, 0.930),
    (8771.7, 0.952), (8777, 0.968), (8785, 0.979), (8795, 0.987), (8805, 0.990),
    (8815, 0.989), (8822, 0.987), (8830, 0.978), (8838, 0.965), (8843, 0.945), (8847, 0.910), (8851, 0.865),
    (8855, 0.810), (8859, 0.770), (8862, 0.740), (8863.8, 0.725), (8866, 0.745), (8869, 0.775), (8873, 0.810),
    (8877, 0.870), (8882, 0.928), (8886, 0.952), (8890, 0.967), (8895, 0.977), (8900, 0.983),
]

MODEL2 = [
    (7908, 1.000), (8000, 1.000), (8159, 1.000), (8212.8, 1.000), (8213.5, 0.990), (8214, 0.946), (8214.5, 0.990),
    (8215.2, 1.000), (8234, 1.000), (8234.5, 0.980), (8235, 0.915), (8235.5, 0.980), (8236.2, 1.000),
    (8330, 1.000), (8332.3, 1.000), (8333, 1.025), (8333.7, 1.000), (8340, 0.999), (8360, 0.997), (8370, 0.996),
    (8380, 0.992), (8386, 0.990), (8400, 0.985), (8408, 0.981), (8414, 0.975), (8417, 0.971), (8420, 0.978),
    (8424, 0.982), (8430, 0.975), (8437, 0.961), (8441, 0.972), (8445.8, 0.978), (8446.5, 0.664), (8447.2, 0.978),
    (8452, 0.975), (8458, 0.962), (8463, 0.948), (8467.7, 0.937), (8472, 0.958), (8477, 0.972), (8482, 0.976),
    (8487, 0.973), (8492, 0.965), (8496, 0.952), (8499, 0.938), (8502, 0.917), (8504, 0.930), (8508, 0.952),
    (8513, 0.968), (8518, 0.976), (8523, 0.978),
    (8528, 0.973), (8533, 0.960), (8537, 0.945), (8541, 0.915), (8543.5, 0.895), (8545.3, 0.883), (8547, 0.898),
    (8551, 0.930), (8556, 0.955), (8561, 0.968), (8567, 0.975), (8573, 0.970), (8578, 0.958), (8584.5, 0.935),
    (8590, 0.905), (8595, 0.865), (8599, 0.828), (8602, 0.860), (8606, 0.900), (8611, 0.935), (8616, 0.957),
    (8620, 0.969), (8626, 0.980), (8631, 0.986), (8636, 0.982),
    (8641, 0.968), (8646, 0.946), (8651, 0.915), (8656, 0.875), (8660, 0.840), (8663, 0.810), (8666, 0.783),
    (8669, 0.820), (8673, 0.860), (8677, 0.895), (8680, 0.915), (8680.7, 0.900), (8681.5, 0.922), (8686, 0.948),
    (8692, 0.970), (8700, 0.990), (8706, 0.994), (8712, 0.993), (8719, 0.986),
    (8725, 0.970), (8731, 0.945), (8736, 0.915), (8741, 0.866), (8745, 0.820), (8748, 0.780), (8750, 0.755),
    (8751.5, 0.742), (8754, 0.780), (8757, 0.830), (8760, 0.865), (8763, 0.889), (8768, 0.930), (8776, 0.958),
    (8786, 0.977), (8796, 0.986), (8807, 0.994), (8817, 0.993), (8824.5, 0.990), (8832, 0.980), (8840, 0.958),
    (8845, 0.930), (8851, 0.866), (8856, 0.810), (8860, 0.760), (8863.6, 0.707), (8867, 0.760), (8873, 0.850),
    (8880, 0.910), (8886, 0.946), (8893, 0.972), (8900, 0.986),
]

# wavelength ranges (Angstrom)
GREY_RANGES_RIGHT = [(7945, 7951), (8377, 8379), (8491, 8497), (8537, 8545), (8587, 8679),
                     (8753, 8755), (8775, 8777), (8821, 8823), (8885, 8887)]
LIGHT_MODEL_RANGES_RIGHT = [(8491, 8497), (8587, 8679)]
BLACK_RANGES_LEFT = [(7999.5, 8158.5), (8331, 8479), (8680, 8700)]
RED_MODEL_RANGES_LEFT = [(7999, 8160), (8212.5, 8215.5), (8233.8, 8236.5), (8329, 8482), (8678, 8702)]

# line identifications
LINES_RIGHT_W = [8329.8, 8447.0, 8467.8, 8503.0, 8546.2, 8599.5, 8629.5, 8642.3, 8666.0, 8719.3, 8751.2, 8864.0]
LINES_RIGHT_EL = ["C", "O", "H", "H", "H", "H", "N", "Al", "H", "N", "H", "H"]
LINES_RIGHT_ION = ["I", "I", "I", "I", "I", "I", "I", "II", "I", "I", "I", "I"]
LINES_LEFT_W = [8329.8, 8447.0, 8467.8, 8503.0, 8546.2, 8599.5, 8666.0, 8751.2, 8864.0]
LINES_LEFT_EL = ["C", "O", "H", "H", "H", "H", "H", "H", "H"]
LINES_LEFT_ION = ["I", "I", "I", "I", "I", "I", "I", "I", "I"]
BRACKET_W = [8214.2, 8680.8]
BRACKET_EL = ["Mg", "N"]
BRACKET_ION = ["II", "I"]

# bracket drawings (flux, wavelength) per stroke
BRACKETS_RIGHT = [
    [(1.0993, 8214.2), (1.1175, 8214.2)],
    [(1.1175, 8214.2), (1.1136, 8218.0), (1.1104, 8223.4), (1.1088, 8229.0), (1.1056, 8233.0), (1.0993, 8235.0)],
    [(1.0993, 8680.8), (1.1175, 8680.8)],
    [(1.0993, 8683.0), (1.1175, 8680.8)],
    [(1.0993, 8685.4), (1.1175, 8680.8)],
    [(1.1175, 8680.8), (1.1104, 8688.0), (1.1073, 8696.8), (1.1032, 8702.3), (1.0993, 8704.5)],
    [(1.1175, 8680.8), (1.1128, 8688.0), (1.1104, 8701.2), (1.1064, 8708.9), (1.0993, 8712.6)],
]
BRACKETS_LEFT = [
    [(1.1014, 8214.2), (1.1507, 8214.2)],
    [(1.1507, 8214.2), (1.1393, 8218.0), (1.1300, 8223.4), (1.1255, 8229.0), (1.1162, 8233.0), (1.1014, 8235.0)],
    [(1.1014, 8680.8), (1.1531, 8680.8)],
    [(1.1014, 8683.0), (1.1531, 8680.8)],
    [(1.1014, 8685.4), (1.1531, 8680.8)],
    [(1.1531, 8680.8), (1.1324, 8688.0), (1.1234, 8696.8), (1.1117, 8702.3), (1.1014, 8704.5)],
    [(1.1531, 8680.8), (1.1393, 8688.0), (1.1324, 8701.2), (1.1210, 8708.9), (1.1014, 8712.6)],
]

# axis ticks
WAVE_MAJOR = [8000, 8100, 8200, 8300, 8400, 8500, 8600, 8700, 8800, 8900]
WAVE_MINOR = [w for w in range(7920, 8901, 20) if w % 100 != 0]
CHI_MAJOR = [-5, 0, 5]
CHI_MINOR = [-6, -4, -3, -2, -1, 1, 2, 3, 4, 6]
FLUX2_MAJOR = [0, 0.2, 0.4, 0.6, 0.8, 1, 1.2, 1.4]
FLUX2_MINOR = [0.1, 0.3, 0.5, 0.7, 0.9, 1.1, 1.3]
FLUX1_MAJOR = [0.8, 0.9, 1, 1.1, 1.2]
FLUX1_MINOR = [0.72, 0.74, 0.76, 0.78, 0.82, 0.84, 0.86, 0.88, 0.92, 0.94, 0.96, 0.98,
               1.02, 1.04, 1.06, 1.08, 1.12, 1.14, 1.16, 1.18]
CHI_DASHED = [0]
CHI_DOTTED = [-1, 1]

assert len(OBS1_A) == len(CHI2_A) == len(CHI1_A) == len(OBS2) == 497
assert len(OBS1_B) == len(CHI2_B) == len(CHI1_B) == 496


def interleave(a, b):
    out = []
    for i, v in enumerate(a):
        out.append(v)
        if i < len(b):
            out.append(b[i])
    return out


WAVE_FINE = [GRID_START + i for i in range(993)]
WAVE_COARSE = WAVE_FINE[::2]
OBS1 = interleave(OBS1_A, OBS1_B)
CHI2 = interleave(CHI2_A, CHI2_B)
CHI1 = interleave(CHI1_A, CHI1_B)

# ---------------------------------------------------------------- scales / axes
Y_SCALE = alt.Scale(domain=[7908, 8900.7], reverse=True, nice=False, zero=False)
XS_CHI1 = alt.Scale(domain=[-6.55, 6.55], nice=False, zero=False)
XS_FLUX2 = alt.Scale(domain=[-0.053, 1.43], nice=False, zero=False)
XS_CHI2 = alt.Scale(domain=[-6.6, 6.6], nice=False, zero=False)
XS_FLUX1 = alt.Scale(domain=[0.7015, 1.2033], nice=False, zero=False)

LABEL_EXPR = "datum.value < 0 ? '-' + format(-datum.value, '~g') : format(datum.value, '~g')"


def x_axis(values, title, bold, size):
    return alt.Axis(
        orient="top", values=values, labelExpr=LABEL_EXPR, labelAngle=90,
        labelAlign="right", labelBaseline="middle", labelFont=SERIF, labelFontWeight="bold",
        labelFontSize=18, labelColor="black", labelPadding=7, labelFlush=False, labelOverlap=False,
        ticks=False, tickSize=0, domain=False, grid=False,
        title=title, titleFont=SERIF, titleFontSize=size,
        titleFontWeight="bold" if bold else "normal", titlePadding=0, titleColor="black")


XA_CHI = x_axis(CHI_MAJOR, "χ", False, 19)
XA_FLUX2 = x_axis(FLUX2_MAJOR, "Normalized flux", True, 18)
XA_FLUX1 = x_axis(FLUX1_MAJOR, "Normalized flux", True, 18)

Y_AXIS = alt.Axis(
    values=WAVE_MAJOR, labelAngle=90, labelExpr="format(datum.value, 'd')",
    labelAlign={"condition": {"test": "datum.value >= 8900", "value": "right"}, "value": "center"},
    labelBaseline="top", labelFont=SERIF, labelFontWeight="bold", labelFontSize=20,
    labelColor="black", labelPadding=5, labelOverlap=False, labelFlush=False,
    ticks=False, tickSize=0, domain=False, grid=False,
    title="Rest wavelength λ(Å)", titleAngle=90, titleBaseline="top", titleFont=SERIF,
    titleFontSize=19, titleFontWeight="bold", titlePadding=3, titleColor="black")


def inside(w, ranges):
    return any(lo <= w <= hi for lo, hi in ranges)


def runs(ws, vs, flags):
    rows, seg, prev = [], 0, False
    for w, v, f in zip(ws, vs, flags):
        if f:
            if not prev:
                seg += 1
            rows.append({"w": w, "v": v, "seg": seg})
        prev = f
    return pd.DataFrame(rows, columns=["w", "v", "seg"])


def Yenc(ya):
    return alt.Y("w:Q", scale=Y_SCALE, axis=ya)


def spectrum_layers(ws, values, dark_ranges, xs, xa, ya, invert=False):
    flags = [(not inside(w, dark_ranges)) if invert else inside(w, dark_ranges) for w in ws]
    full = pd.DataFrame({"w": ws, "v": values})
    darkdf = runs(ws, values, flags)
    X = alt.X("v:Q", scale=xs, axis=xa)
    g = alt.Chart(full).mark_line(color=GREY, strokeWidth=1, clip=True, strokeJoin="round").encode(
        x=X, y=Yenc(ya), order=alt.Order("w:Q"))
    b = alt.Chart(darkdf).mark_line(color="black", strokeWidth=1, clip=True, strokeJoin="round").encode(
        x=X, y=Yenc(ya), detail="seg:N", order=alt.Order("w:Q"))
    return [g, b]


def model_layers(points, strong_flags, xs, xa, ya, ws_strong=2.0):
    ws = [p[0] for p in points]
    fs = [p[1] for p in points]
    full = pd.DataFrame({"w": ws, "v": fs})
    strong = runs(ws, fs, strong_flags)
    X = alt.X("v:Q", scale=xs, axis=xa)
    light = alt.Chart(full).mark_line(color=PINK, strokeWidth=1.6, clip=True).encode(
        x=X, y=Yenc(ya), order=alt.Order("w:Q"))
    red = alt.Chart(strong).mark_line(color=RED, strokeWidth=ws_strong, clip=True).encode(
        x=X, y=Yenc(ya), detail="seg:N", order=alt.Order("w:Q"))
    return [light, red]


def chi_guides(xs, xa):
    X = alt.X("v:Q", scale=xs, axis=xa)
    d = alt.Chart(pd.DataFrame({"v": CHI_DASHED})).mark_rule(
        color="#555555", strokeWidth=1, strokeDash=[4, 4]).encode(x=X)
    o = alt.Chart(pd.DataFrame({"v": CHI_DOTTED})).mark_rule(
        color="#555555", strokeWidth=1, strokeDash=[1, 5]).encode(x=X)
    return [d, o]


EL_DX = {"C": 17, "O": 18, "H": 18, "N": 17, "Al": 22, "Mg": 32}


def label_layers(ws, els, ions, text_x, xs, xa, ya, dash=None):
    df = pd.DataFrame({"w": ws, "el": els, "ion": ions})
    XT = alt.XDatum(text_x, scale=xs, axis=xa)
    out = []
    if dash is not None:
        out.append(alt.Chart(df).mark_rule(color="black", strokeWidth=2).encode(
            x=alt.XDatum(dash[0], scale=xs, axis=xa), x2=alt.X2Datum(dash[1]), y=Yenc(ya)))
    out.append(alt.Chart(df).mark_text(
        font=SERIF, fontWeight="bold", fontSize=19, align="left", baseline="alphabetic",
        dy=6.5, color="black").encode(x=XT, y=Yenc(ya), text="el:N"))
    for el in sorted(set(els)):
        sub = df[df["el"] == el]
        out.append(alt.Chart(sub).mark_text(
            font=SERIF, fontWeight="bold", fontSize=12, align="left", baseline="alphabetic",
            dx=EL_DX[el], dy=6.5, color="black").encode(x=XT, y=Yenc(ya), text="ion:N"))
    return out


def bracket_layer(groups, xs, xa, ya):
    rows = []
    for gi, pts in enumerate(groups):
        for k, (f, w) in enumerate(pts):
            rows.append({"g": gi, "k": k, "f": f, "w": w})
    df = pd.DataFrame(rows)
    return alt.Chart(df).mark_line(color="black", strokeWidth=1.5, interpolate="catmull-rom").encode(
        x=alt.X("f:Q", scale=xs, axis=xa), y=Yenc(ya), detail="g:N", order=alt.Order("k:Q"))


def frame_ticks(width, xs, xa, ya, xmaj, xmin):
    out = []
    for vals, L in ((xmaj, 11), (xmin, 6)):
        d = pd.DataFrame({"v": vals})
        X = alt.X("v:Q", scale=xs, axis=xa)
        out.append(alt.Chart(d).mark_rule(color=FRAME, strokeWidth=1).encode(
            x=X, y=alt.value(0), y2=alt.value(L)))
        out.append(alt.Chart(d).mark_rule(color=FRAME, strokeWidth=1).encode(
            x=X, y=alt.value(H), y2=alt.value(H - L)))
    for vals, L in ((WAVE_MAJOR, 12), (WAVE_MINOR, 6)):
        d = pd.DataFrame({"w": vals})
        out.append(alt.Chart(d).mark_rule(color=FRAME, strokeWidth=1).encode(
            y=Yenc(ya), x=alt.value(0), x2=alt.value(L)))
        out.append(alt.Chart(d).mark_rule(color=FRAME, strokeWidth=1).encode(
            y=Yenc(ya), x=alt.value(width), x2=alt.value(width - L)))
    return out


red_right = [not inside(p[0], LIGHT_MODEL_RANGES_RIGHT) for p in MODEL1]
red_left = [inside(p[0], RED_MODEL_RANGES_LEFT) for p in MODEL2]

# panel 1: chi (left fit)
p1 = alt.layer(
    *chi_guides(XS_CHI1, XA_CHI),
    *spectrum_layers(WAVE_FINE, CHI1, BLACK_RANGES_LEFT, XS_CHI1, XA_CHI, Y_AXIS),
    *frame_ticks(W_CHI1, XS_CHI1, XA_CHI, Y_AXIS, CHI_MAJOR, CHI_MINOR),
).properties(width=W_CHI1, height=H)

# panel 2: normalized flux (left fit)
p2 = alt.layer(
    *spectrum_layers(WAVE_COARSE, OBS2, BLACK_RANGES_LEFT, XS_FLUX2, XA_FLUX2, None),
    *model_layers(MODEL2, red_left, XS_FLUX2, XA_FLUX2, None, ws_strong=2.0),
    *label_layers(LINES_LEFT_W, LINES_LEFT_EL, LINES_LEFT_ION, 1.1645, XS_FLUX2, XA_FLUX2, None,
                  dash=(1.1014, 1.1507)),
    *label_layers(BRACKET_W, BRACKET_EL, BRACKET_ION, 1.1645, XS_FLUX2, XA_FLUX2, None),
    bracket_layer(BRACKETS_LEFT, XS_FLUX2, XA_FLUX2, None),
    *frame_ticks(W_FLUX2, XS_FLUX2, XA_FLUX2, None, FLUX2_MAJOR, FLUX2_MINOR),
).properties(width=W_FLUX2, height=H)

# panel 3: chi (right fit)
p3 = alt.layer(
    *chi_guides(XS_CHI2, XA_CHI),
    *spectrum_layers(WAVE_FINE, CHI2, GREY_RANGES_RIGHT, XS_CHI2, XA_CHI, None, invert=True),
    *frame_ticks(W_CHI2, XS_CHI2, XA_CHI, None, CHI_MAJOR, CHI_MINOR),
).properties(width=W_CHI2, height=H)

# panel 4: normalized flux (right fit)
p4 = alt.layer(
    *spectrum_layers(WAVE_FINE, OBS1, GREY_RANGES_RIGHT, XS_FLUX1, XA_FLUX1, None, invert=True),
    *model_layers(MODEL1, red_right, XS_FLUX1, XA_FLUX1, None, ws_strong=2.2),
    *label_layers(LINES_RIGHT_W, LINES_RIGHT_EL, LINES_RIGHT_ION, 1.1219, XS_FLUX1, XA_FLUX1, None,
                  dash=(1.0993, 1.1175)),
    *label_layers(BRACKET_W, BRACKET_EL, BRACKET_ION, 1.1219, XS_FLUX1, XA_FLUX1, None),
    bracket_layer(BRACKETS_RIGHT, XS_FLUX1, XA_FLUX1, None),
    *frame_ticks(W_FLUX1, XS_FLUX1, XA_FLUX1, None, FLUX1_MAJOR, FLUX1_MINOR),
).properties(width=W_FLUX1, height=H)

chart = alt.hconcat(p1, p2, p3, p4, spacing=0, bounds="flush").properties(
    padding={"left": 0, "top": 0, "right": 3, "bottom": 0}
).configure_view(stroke=FRAME, strokeWidth=1.3)

chart.save("out.html", embed_options={"renderer": "svg", "actions": False})
